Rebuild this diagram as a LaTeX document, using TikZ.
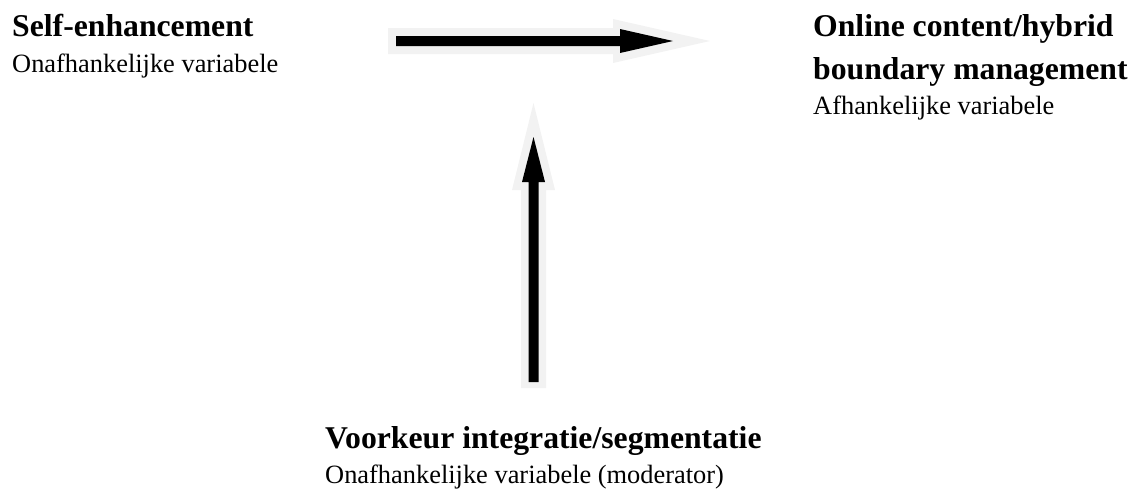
\documentclass[tikz,border=0pt]{standalone}
\usepackage{fontspec}
\setmainfont{Liberation Serif}
\usetikzlibrary{calc}
\tikzset{
  title/.style={anchor=base west, inner sep=0pt, font=\bfseries\fontsize{31.7}{44}\selectfont, align=left},
  sub/.style={anchor=base west, inner sep=0pt, font=\fontsize{26.4}{30}\selectfont},
  halo/.style={fill=black!5},
  core/.style={fill=black},
}
\begin{document}
\begin{tikzpicture}[x=1pt,y=-1pt]
\useasboundingbox (0,0) rectangle (1137,491);

% variable labels
\node[title] (se) at (12,36) {Self-enhancement};
\node[sub] (seSub) at (12,72) {Onafhankelijke variabele};
\node[title] (oc) at (813,36) {Online content/hybrid};
\node[title] (ocb) at (813,79) {boundary management};
\node[sub] (ocSub) at (813,114) {Afhankelijke variabele};
\node[title] (vk) at (325,448) {Voorkeur integratie/segmentatie};
\node[sub] (vkSub) at (325,483) {Onafhankelijke variabele (moderator)};

% arrow end points
\coordinate (hA) at (396,41);  \coordinate (hB) at (673,41);
\coordinate (vA) at (533.5,382); \coordinate (vB) at (533.5,137);

% horizontal arrow: light halo, then black arrow
\fill[halo] ($(hA)+(-8,-13)$) -- ($(hB)+(-60,-13)$) -- ($(hB)+(-60,-22)$)
  -- ($(hB)+(37,0)$) -- ($(hB)+(-60,22)$) -- ($(hB)+(-60,13)$)
  -- ($(hA)+(-8,13)$) -- cycle;
\fill[core] ($(hA)+(0,-5)$) -- ($(hB)+(-53,-5)$) -- ($(hB)+(-53,-12)$)
  -- (hB) -- ($(hB)+(-53,12)$) -- ($(hB)+(-53,5)$) -- ($(hA)+(0,5)$) -- cycle;

% vertical arrow: light halo, then black arrow
\fill[halo] ($(vA)+(-12.5,6)$) -- ($(vB)+(-12.5,53)$) -- ($(vB)+(-21.5,53)$)
  -- ($(vB)+(0,-34)$) -- ($(vB)+(21.5,53)$) -- ($(vB)+(12.5,53)$)
  -- ($(vA)+(12.5,6)$) -- cycle;
\fill[core] ($(vA)+(-5,0)$) -- ($(vB)+(-5,45)$) -- ($(vB)+(-11.5,45)$)
  -- (vB) -- ($(vB)+(11.5,45)$) -- ($(vB)+(5,45)$) -- ($(vA)+(5,0)$) -- cycle;
\end{tikzpicture}
\end{document}
